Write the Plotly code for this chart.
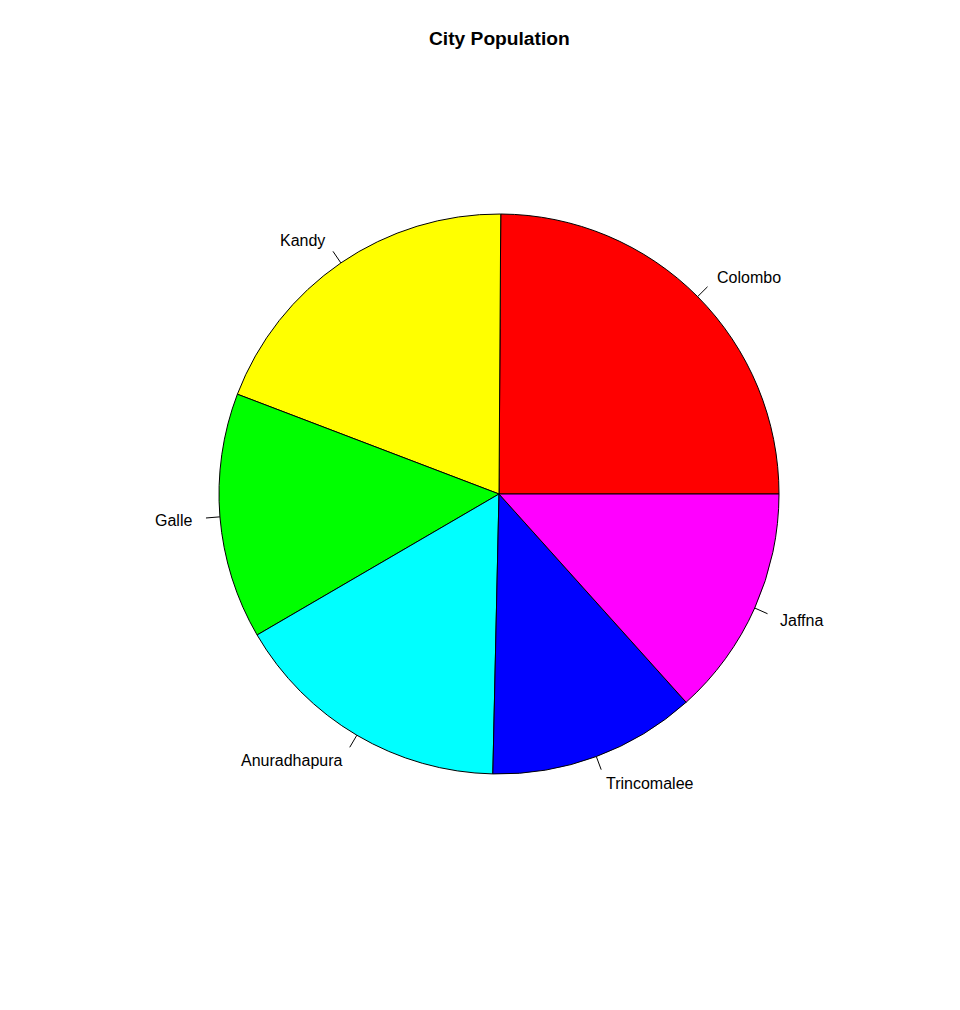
import numpy as np
import plotly.graph_objects as go

cities = ["Colombo", "Kandy", "Galle", "Anuradhapura", "Trincomalee", "Jaffna"]
population = [24.9, 19.3, 14.2, 16.25, 12.0, 13.35]
colors = ["#FF0000", "#FFFF00", "#00FF00", "#00FFFF", "#0000FF", "#FF00FF"]

W, H = 960, 1010
CX, CY, R = 499.0, 494.0, 280.0

vals = np.array(population, dtype=float)
first_deg = vals[0] / vals.sum() * 360.0

fig = go.Figure()
fig.add_trace(go.Pie(
    labels=cities, values=population, sort=False,
    direction="counterclockwise", rotation=90 - first_deg,
    marker=dict(colors=colors, line=dict(color="black", width=1)),
    textinfo="none", hoverinfo="label+value", showlegend=False,
    domain=dict(x=[(CX - R) / W, (CX + R) / W], y=[1 - (CY + R) / H, 1 - (CY - R) / H]),
))

cum = np.concatenate([[0], np.cumsum(vals)]) / vals.sum() * 2 * np.pi
mids = (cum[:-1] + cum[1:]) / 2

annotations = [dict(text="<b>City Population</b>", x=CX / W, y=1 - 38 / H, xref="paper", yref="paper",
                    showarrow=False, font=dict(size=19.2, color="black", family="Liberation Sans, Arial"),
                    xanchor="center", yanchor="middle")]
shapes = []
for name, a in zip(cities, mids):
    c, s = np.cos(a), np.sin(a)
    x0, y0 = CX + R * c, CY - R * s
    x1, y1 = CX + 1.05 * R * c, CY - 1.05 * R * s
    shapes.append(dict(type="line", xref="paper", yref="paper",
                       x0=x0 / W, y0=1 - y0 / H, x1=x1 / W, y1=1 - y1 / H,
                       line=dict(color="black", width=1)))
    tx, ty = CX + 1.1 * R * c, CY - 1.1 * R * s
    tx -= 2.0 * np.sign(c)
    ty += 1.0
    annotations.append(dict(text=name, x=tx / W, y=1 - ty / H, xref="paper", yref="paper",
                            showarrow=False, xanchor="left" if c > 0 else "right", yanchor="middle",
                            font=dict(size=16, color="black", family="Liberation Sans, Arial")))

fig.update_layout(width=W, height=H, margin=dict(l=0, r=0, t=0, b=0),
                  paper_bgcolor="white", plot_bgcolor="white",
                  annotations=annotations, shapes=shapes)
fig.write_html("out.html")
